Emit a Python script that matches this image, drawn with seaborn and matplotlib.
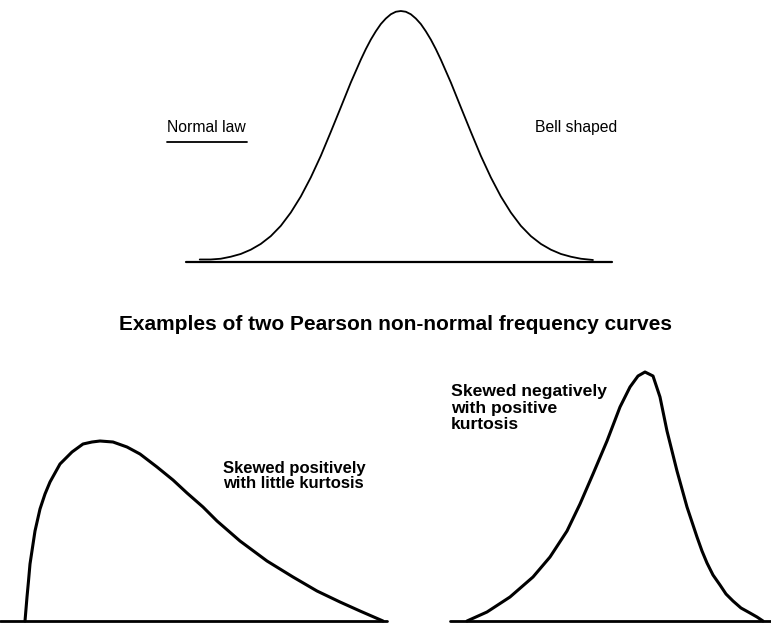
import matplotlib
matplotlib.use("Agg")
import matplotlib.pyplot as plt
import seaborn as sns
import pandas as pd
from matplotlib.lines import Line2D

# --- datos ---
# curva normal (x en desviaciones tipicas, y en % del maximo)
normal_z = [-3.295, -3.115, -2.951, -2.787, -2.623, -2.459, -2.295, -2.131, -1.967,
            -1.803, -1.639, -1.475, -1.311, -1.148, -0.984, -0.820, -0.656, -0.574,
            -0.492, -0.410, -0.328, -0.246, -0.164, -0.082, 0.000,
            0.082, 0.164, 0.246, 0.328, 0.410, 0.492, 0.574, 0.656, 0.820,
            0.984, 1.148, 1.311, 1.475, 1.639, 1.803, 1.967, 2.131, 2.295,
            2.459, 2.623, 2.787, 2.951, 3.148]
normal_freq = [1.0, 1.0, 1.3, 2.1, 3.2, 4.9, 7.2, 10.3, 14.4,
               19.7, 26.1, 33.7, 42.3, 51.8, 61.6, 71.5, 80.6, 84.8,
               88.6, 91.9, 94.8, 97.0, 98.7, 99.7, 100.0,
               99.7, 98.7, 97.0, 94.8, 91.9, 88.6, 84.8, 80.6, 71.5,
               61.6, 51.8, 42.3, 33.7, 26.1, 19.7, 14.4, 10.3, 7.2,
               4.9, 3.2, 2.1, 1.3, 0.8]

# sesgo positivo, poca curtosis
pos_x = [2.5, 2.6, 2.7, 2.85, 3.0, 3.5, 4.0, 4.5, 5.0, 6.0, 7.2, 8.3, 9.2, 10.0,
         11.3, 12.7, 14.0, 15.7, 17.3, 18.7, 20.3, 21.7, 24.0, 26.7, 29.3,
         31.7, 34.0, 36.0, 38.3]
pos_freq = [0, 12, 24, 40, 57, 90, 112, 127, 139, 157, 169, 177, 179, 180,
            179, 174, 167, 154, 141, 128, 114, 100, 80, 60, 44,
            30, 19, 10, 0]

# sesgo negativo, curtosis positiva
neg_x = [46.7, 48.7, 51.0, 53.3, 55.0, 56.7, 58.0, 59.3, 60.7, 62.0, 63.0, 63.8,
         64.5, 65.3, 66.0, 66.7, 67.7, 68.7, 69.7, 70.2, 70.7, 71.3, 72.0,
         72.6, 73.3, 74.1, 75.0, 75.7, 76.3]
neg_freq = [0, 9, 24, 44, 64, 90, 117, 147, 180, 214, 234, 245,
            249, 245, 224, 190, 150, 114, 84, 70, 58, 46, 36,
            27, 20, 13, 8, 4, 0]

titulo = "Examples of two Pearson non-normal frequency curves"

sns.set_style("white")
plt.rcParams["font.family"] = ["Liberation Sans", "DejaVu Sans"]
plt.rcParams["text.color"] = "black"

W, H = 771, 624
fig = plt.figure(figsize=(W / 100, H / 100), dpi=100)


def caja(x0, x1, y_top, y_base):
    # ejes colocados en pixeles de la imagen
    return fig.add_axes([x0 / W, 1 - y_base / H, (x1 - x0) / W, (y_base - y_top) / H])


def curva(ax, x, y, xlim, ymax, lw, lw_base):
    df = pd.DataFrame({"x": x, "y": y})
    sns.lineplot(data=df, x="x", y="y", ax=ax, color="black", lw=lw,
                 sort=False, estimator=None)
    for line in ax.get_lines():
        line.set_clip_on(False)
        line.set_solid_joinstyle("round")
    ax.axhline(0, color="black", lw=lw_base, clip_on=False)
    ax.set_xlim(*xlim)
    ax.set_ylim(0, ymax)
    ax.axis("off")


ax_top = caja(186, 612, 11, 262)
curva(ax_top, normal_z, normal_freq, (-3.52, 3.46), 100, 1.3, 1.6)

ax_pos = caja(0, 387, 441, 621)
curva(ax_pos, pos_x, pos_freq, (0, 38.7), 180, 2.2, 2.0)

ax_neg = caja(450, 771, 372, 621)
curva(ax_neg, neg_x, neg_freq, (45.0, 77.1), 249, 2.2, 2.0)


def texto(x, y, s, **kw):
    fig.text(x / W, 1 - y / H, s, color="black", **kw)


texto(167, 128, "Normal law", fontsize=11.3, va="center", ha="left")
fig.add_artist(Line2D([167 / W, 247 / W], [1 - 142 / H, 1 - 142 / H],
                      color="black", lw=1.3))
texto(535, 128, "Bell shaped", fontsize=11.3, va="center", ha="left")

texto(396, 324, titulo, fontsize=15, fontweight="bold", va="center", ha="center")

texto(223, 476, "Skewed positively\nwith little kurtosis", fontsize=12,
      fontweight="bold", va="center", ha="left", linespacing=0.97)
texto(451, 408, "Skewed negatively\nwith positive\nkurtosis", fontsize=12.6,
      fontweight="bold", va="center", ha="left", linespacing=1.1)

fig.savefig("out.png", dpi=100, facecolor="white")
